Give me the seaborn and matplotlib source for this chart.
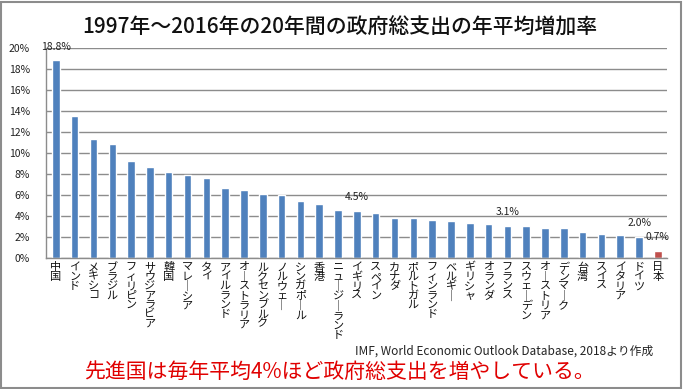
import seaborn as sns
import matplotlib.pyplot as plt
import matplotlib.patches as patches
from matplotlib.ticker import FixedLocator

# 1997-2016 average annual growth of total government expenditure (%)
countries = ["中国", "インド", "メキシコ", "ブラジル", "フィリピン", "サウジアラビア", "韓国",
             "マレーシア", "タイ", "アイルランド", "オーストラリア", "ルクセンブルク", "ノルウェー",
             "シンガポール", "香港", "ニュージーランド", "イギリス", "スペイン", "カナダ",
             "ポルトガル", "フィンランド", "ベルギー", "ギリシャ", "オランダ", "フランス",
             "スウェーデン", "オーストリア", "デンマーク", "台湾", "スイス", "イタリア", "ドイツ", "日本"]
growth = [18.8, 13.5, 11.3, 10.9, 9.2, 8.7, 8.2, 7.9, 7.6, 6.7, 6.5, 6.1, 6.0,
          5.4, 5.2, 4.6, 4.5, 4.3, 3.8, 3.8, 3.6, 3.5, 3.4, 3.3, 3.1,
          3.1, 2.9, 2.9, 2.5, 2.3, 2.2, 2.0, 0.7]
labeled = ["中国", "イギリス", "フランス", "ドイツ", "日本"]
yticks = [0, 2, 4, 6, 8, 10, 12, 14, 16, 18, 20]

sns.set_style("white")
plt.rcParams['font.family'] = ['Noto Sans CJK JP', 'DejaVu Sans']

fig = plt.figure(figsize=(6.83, 3.89), dpi=100)
ax = fig.add_axes([0.068, 0.336, 0.909, 0.541])

colors = ["#C0504D" if c == "日本" else "#4F81BD" for c in countries]
sns.barplot(x=countries, y=growth, hue=countries, palette=colors, legend=False,
            width=0.4, saturation=1, ax=ax)

ax.set_ylim(0, 20)
ax.set_xlim(-0.5, len(countries) - 0.5)
ax.set_yticks(yticks)
ax.set_yticklabels([f"{t}%" for t in yticks], fontsize=7.5, color="#222222")
ax.yaxis.grid(True, color="#8c8c8c", linewidth=1)
ax.set_axisbelow(True)
ax.tick_params(axis="y", length=0, pad=12)

# vertical (tategaki) category labels
def vert(name):
    return "\n".join("｜" if ch == "ー" else ch for ch in name)

ax.set_xticks(range(len(countries)))
ax.set_xticklabels([vert(c) for c in countries], fontsize=8, linespacing=0.92,
                   va="top", color="#111111")
ax.tick_params(axis="x", length=0, pad=3)
ax.xaxis.set_minor_locator(FixedLocator([i - 0.5 for i in range(len(countries) + 1)]))
ax.tick_params(axis="x", which="minor", length=4, color="#8c8c8c", direction="out")

for side in ["top", "right"]:
    ax.spines[side].set_visible(False)
for side in ["left", "bottom"]:
    ax.spines[side].set_color("#8c8c8c")
    ax.spines[side].set_linewidth(1)

for i, (c, v) in enumerate(zip(countries, growth)):
    if c in labeled:
        ax.annotate(f"{v:.1f}%", (i, v), xytext=(0, 10), textcoords="offset points",
                    ha="center", va="center", fontsize=7.5, color="#222222")

fig.text(0.497, 0.928, "1997年～2016年の20年間の政府総支出の年平均増加率",
         ha="center", va="center", fontsize=15, fontweight="medium", color="#111111")
fig.text(0.52, 0.098, "IMF, World Economic Outlook Database, 2018より作成",
         ha="left", va="center", fontsize=8.5, color="#222222")
fig.text(0.497, 0.043, "先進国は毎年平均4%ほど政府総支出を増やしている。",
         ha="center", va="center", fontsize=15, color="#E00000")

fig.patches.append(patches.Rectangle((0.002, 0.003), 0.995, 0.993, transform=fig.transFigure,
                                     fill=False, edgecolor="#8c8c8c", linewidth=1.5))

plt.savefig("out.png", dpi=100)
